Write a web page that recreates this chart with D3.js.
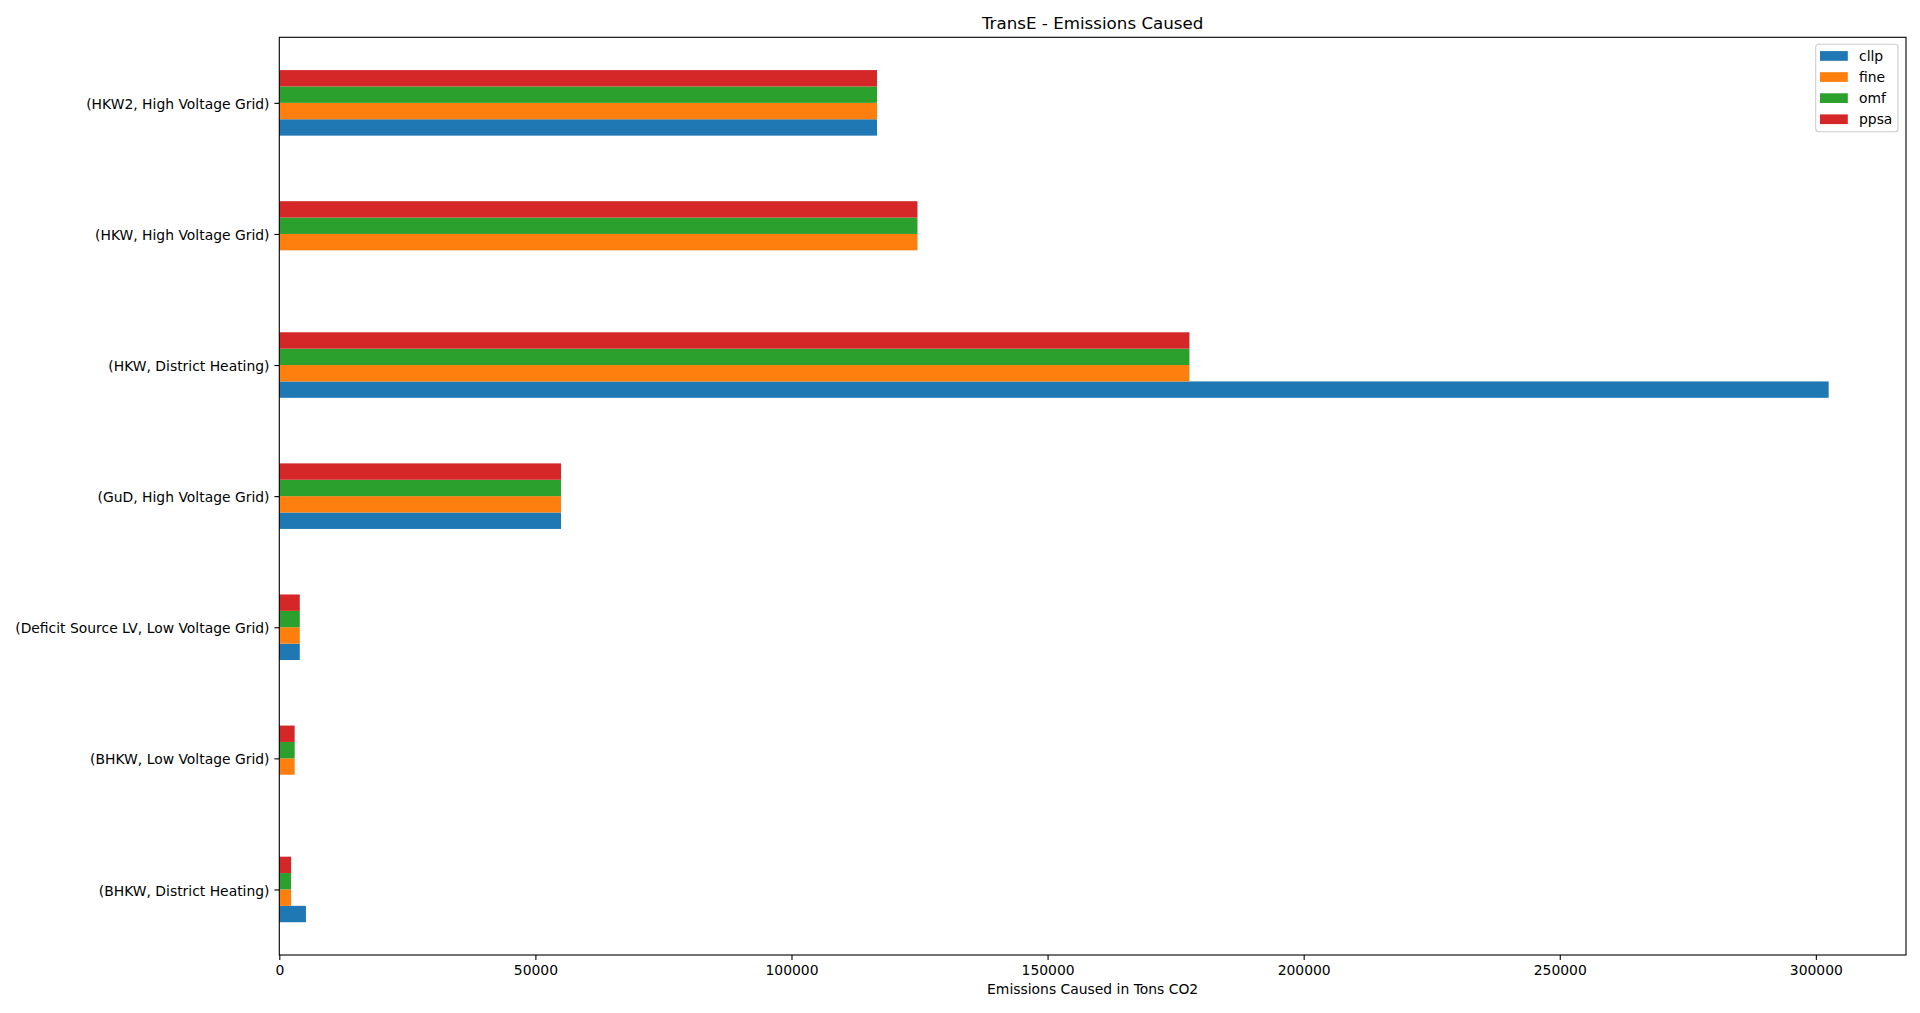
<!DOCTYPE html>
<html>
<head>
<meta charset="utf-8">
<script src="https://cdn.jsdelivr.net/npm/d3@7"></script>
<style>
	body { margin: 0; background: #fff; }
	svg text { font-family: "DejaVu Sans", sans-serif; fill: #000; }
</style>
</head>
<body>
<div id="chart"></div>
<script>
// categories from bottom (index 0) to top
var categories = [
	"(BHKW, District Heating)",
	"(BHKW, Low Voltage Grid)",
	"(Deficit Source LV, Low Voltage Grid)",
	"(GuD, High Voltage Grid)",
	"(HKW, District Heating)",
	"(HKW, High Voltage Grid)",
	"(HKW2, High Voltage Grid)"
];
var seriesNames = ["cllp", "fine", "omf", "ppsa"];
var cllp = [5200, null, 4000, 55000, 302500, null, 116700];
var fine = [2300, 3000, 4000, 55000, 177700, 124600, 116700];
var omf  = [2300, 3000, 4000, 55000, 177700, 124600, 116700];
var ppsa = [2300, 3000, 4000, 55000, 177700, 124600, 116700];
var xTicks = [0, 50000, 100000, 150000, 200000, 250000, 300000];
var colors = ["#1f77b4", "#ff7f0e", "#2ca02c", "#d62728"];

(function(){
	var width = 1920, height = 1013;
	var left = 279.3, right = 1906, top = 37.3, bottom = 955;

	var svg = d3.select("div#chart").append("svg")
		.attr("width", width)
		.attr("height", height);

	var x = d3.scaleLinear().domain([0, 317600]).range([left, right]);
	var y = d3.scaleLinear().domain([-0.5, 6.5]).range([bottom, top]);

	var allSeries = [cllp, fine, omf, ppsa];
	var bw = 0.5 / seriesNames.length;

	var rows = [];
	allSeries.forEach(function(vals, j){
		vals.forEach(function(v, i){
			if (v != null) rows.push({i: i, j: j, v: v});
		});
	});

	svg.selectAll(".bar")
		.data(rows)
		.enter().append("rect")
		.attr("class", "bar")
		.attr("x", x(0))
		.attr("width", function(d){ return x(d.v) - x(0); })
		.attr("y", function(d){ return y(d.i - 0.25 + (d.j + 1) * bw); })
		.attr("height", function(d){ return y(d.i - 0.25 + d.j * bw) - y(d.i - 0.25 + (d.j + 1) * bw); })
		.attr("fill", function(d){ return colors[d.j]; });

	// x axis
	var xAxis = svg.append("g")
		.attr("transform", "translate(0," + bottom + ")")
		.call(d3.axisBottom(x).tickValues(xTicks).tickFormat(d3.format("d")).tickSize(4.9).tickSizeOuter(0).tickPadding(4.9));
	xAxis.select(".domain").remove();
	xAxis.selectAll("line").attr("stroke", "#000").attr("stroke-width", 1.1);
	xAxis.selectAll("text").attr("font-size", "13.9px").attr("dy", "0.71em");

	// y axis
	var yAxis = svg.append("g")
		.attr("transform", "translate(" + left + ",0)")
		.call(d3.axisLeft(y).tickValues(d3.range(categories.length))
			.tickFormat(function(d){ return categories[d]; })
			.tickSize(4.9).tickSizeOuter(0).tickPadding(4.9));
	yAxis.select(".domain").remove();
	yAxis.selectAll("line").attr("stroke", "#000").attr("stroke-width", 1.1);
	yAxis.selectAll("text").attr("font-size", "13.9px").attr("dy", "0.4em");

	// frame
	svg.append("rect")
		.attr("x", left).attr("y", top)
		.attr("width", right - left).attr("height", bottom - top)
		.attr("fill", "none").attr("stroke", "#000").attr("stroke-width", 1.1);

	// title + x label
	svg.append("text")
		.attr("x", (left + right) / 2).attr("y", 29)
		.attr("text-anchor", "middle").attr("font-size", "16.7px")
		.text("TransE - Emissions Caused");
	svg.append("text")
		.attr("x", (left + right) / 2).attr("y", 994)
		.attr("text-anchor", "middle").attr("font-size", "13.9px")
		.text("Emissions Caused in Tons CO2");

	// legend
	var lg = svg.append("g");
	lg.append("rect")
		.attr("x", 1815.7).attr("y", 44.3)
		.attr("width", 82.3).attr("height", 87.4)
		.attr("rx", 3).attr("ry", 3)
		.attr("fill", "#fff").attr("fill-opacity", 0.8)
		.attr("stroke", "#ccc").attr("stroke-width", 1.1);
	var item = lg.selectAll(".item")
		.data(seriesNames)
		.enter().append("g")
		.attr("class", "item")
		.attr("transform", function(d, k){ return "translate(0," + (56 + k * 21.1) + ")"; });
	item.append("rect")
		.attr("x", 1820).attr("y", -4.9)
		.attr("width", 27.8).attr("height", 9.7)
		.attr("fill", function(d, k){ return colors[k]; });
	item.append("text")
		.attr("x", 1859).attr("y", 0).attr("dy", "0.35em")
		.attr("font-size", "13.9px")
		.text(function(d){ return d; });
})();
</script>
</body>
</html>
